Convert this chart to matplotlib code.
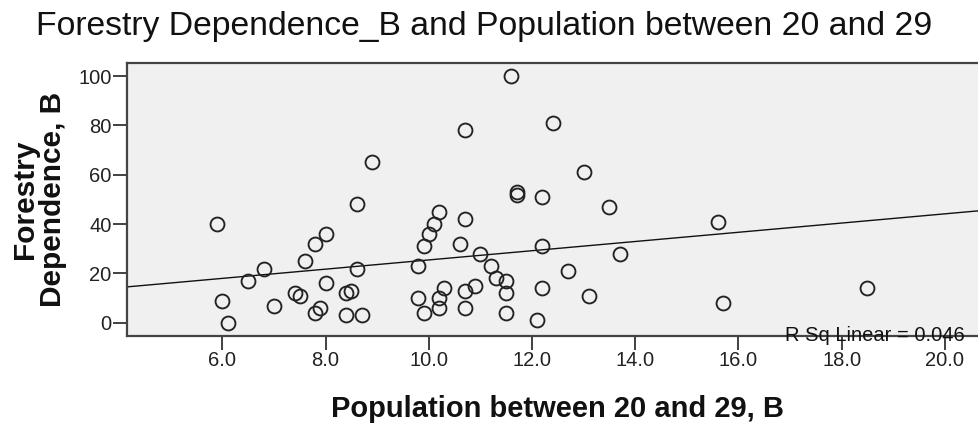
import matplotlib
matplotlib.use("Agg")
import matplotlib.pyplot as plt
import numpy as np

plt.rcParams['font.family'] = ['Liberation Sans', 'DejaVu Sans']

# Population between 20 and 29 (x) and forestry dependence (y), one entry per case
population_20_29 = [
    5.9, 6.0, 6.1, 6.5, 6.8, 7.0, 7.4, 7.5, 7.6, 7.8, 8.0, 8.0, 7.8, 7.9,
    8.4, 8.5, 8.4, 8.7, 8.6, 8.6, 8.9,
    10.2, 10.1, 10.0, 9.9, 9.8, 9.8, 9.9, 10.3, 10.2, 10.2, 10.7, 10.6,
    10.7, 10.9, 10.7, 11.0, 11.2, 11.3, 11.5, 11.5, 11.5, 12.2, 12.2,
    12.2, 12.1, 12.7, 11.7, 11.7,
    13.5, 13.7, 13.1, 15.6, 15.7, 18.5, 11.6, 10.7, 12.4, 13.0,
]
forestry_dependence = [
    40, 9, 0, 17, 22, 7, 12, 11, 25, 32, 36, 16, 4, 6,
    12, 13, 3, 3, 48, 22, 65,
    45, 40, 36, 31, 23, 10, 4, 14, 10, 6, 42, 32,
    13, 15, 6, 28, 23, 18, 17, 12, 4, 51, 31,
    14, 1, 21, 52, 53,
    47, 28, 11, 41, 8, 14, 100, 78, 81, 61,
]

# Linear fit line and its R squared
fit_intercept = 6.8
fit_slope = 1.868
r_sq_linear = 0.046

x_ticks = [6.0, 8.0, 10.0, 12.0, 14.0, 16.0, 18.0, 20.0]
y_ticks = [0, 20, 40, 60, 80, 100]

W, H = 979, 430
fig = plt.figure(figsize=(W / 100, H / 100), dpi=100)
fig.patch.set_facecolor('white')

left, right, top, bottom = 127, 979, 63, 336
ax = fig.add_axes([left / W, (H - bottom) / H, (right - left) / W, (bottom - top) / H])
ax.set_facecolor('#F0F0F0')

ax.set_xlim(4.151, 20.663)
ax.set_ylim(-5.35, 105.3)

ax.plot(population_20_29, forestry_dependence, linestyle='none', marker='o',
        markersize=10, markerfacecolor='none', markeredgecolor='#222222',
        markeredgewidth=1.35, zorder=3)

ax.axline((0, fit_intercept), slope=fit_slope, color='#111111', lw=1.0, zorder=2)

for side in ('left', 'bottom', 'top'):
    ax.spines[side].set_color('#444444')
    ax.spines[side].set_linewidth(1.6)
ax.spines['right'].set_visible(False)

ax.set_xticks(x_ticks)
ax.set_xticklabels([f"{v:.1f}" for v in x_ticks])
ax.set_yticks(y_ticks)
ax.set_yticklabels([str(v) for v in y_ticks])
ax.tick_params(axis='both', direction='out', length=10, width=1.3,
               color='#333333', labelcolor='#222222', labelsize=14.5, pad=1)

ax.text(0.9836, -0.018, f"R Sq Linear = {r_sq_linear:.3f}", transform=ax.transAxes,
        ha='right', va='baseline', fontsize=14.5, color='#111111', zorder=5)

fig.text(484 / W, 1 - 26 / H, "Forestry Dependence_B and Population between 20 and 29",
         ha='center', va='center', fontsize=24.3, color='#111111')
fig.text(558 / W, 1 - 409 / H, "Population between 20 and 29, B",
         ha='center', va='center', fontsize=21, fontweight='bold', color='#111111')
fig.text(39 / W, 1 - 199.5 / H, "Forestry\nDependence, B", rotation=90,
         ha='center', va='center', fontsize=21.5, fontweight='bold', color='#111111',
         linespacing=1.0, multialignment='center')

fig.savefig("out.png", dpi=100)
